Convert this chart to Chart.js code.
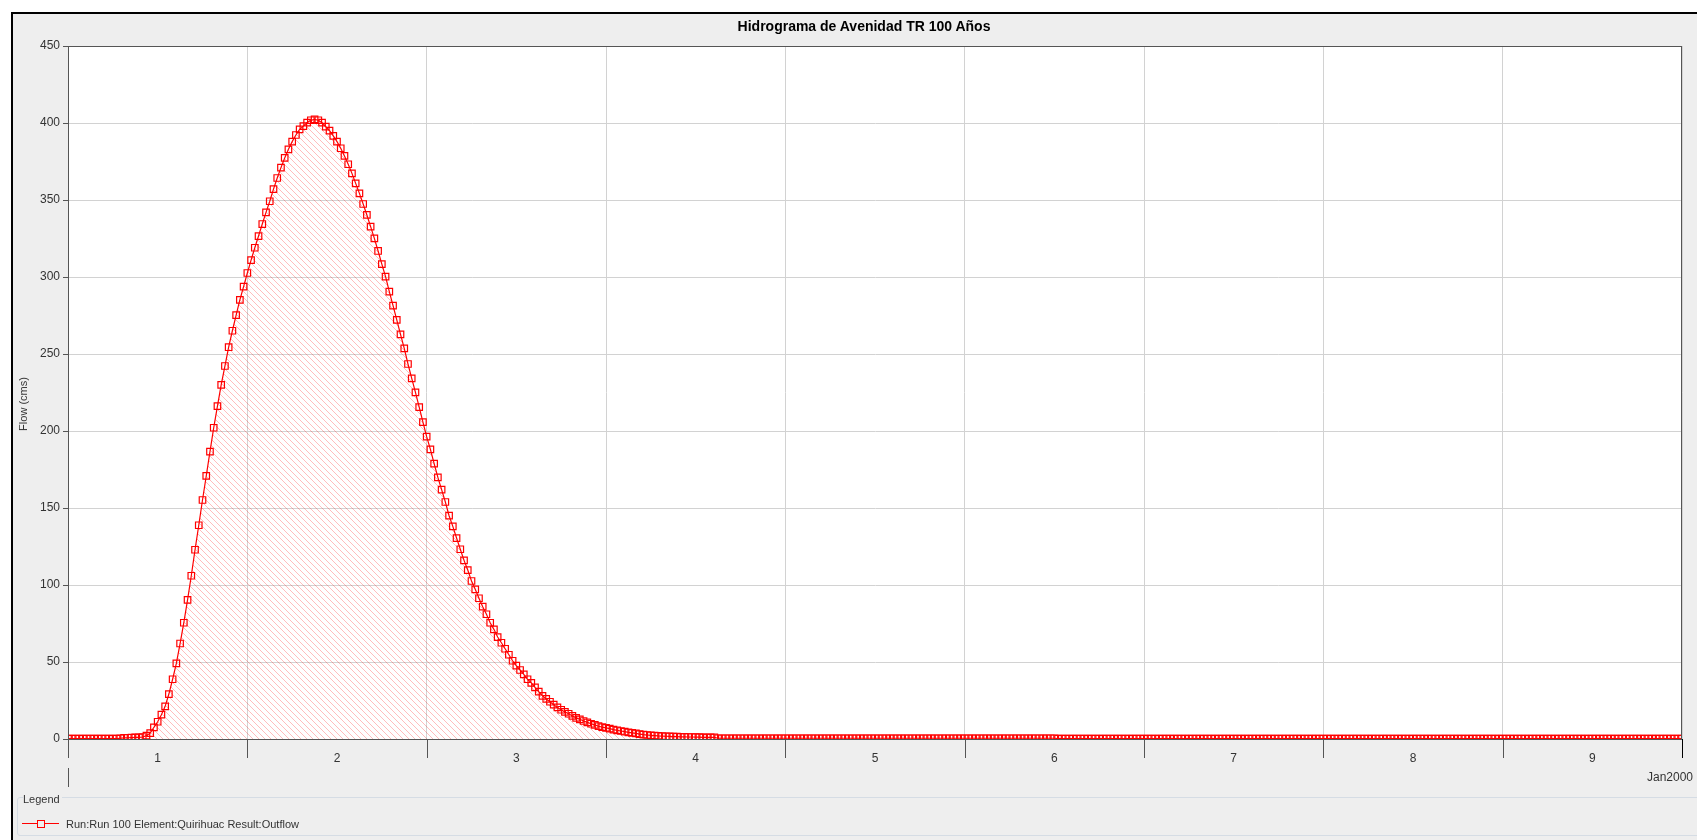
<!DOCTYPE html>
<html>
<head>
<meta charset="utf-8">
<title>Hidrograma de Avenidad TR 100 Años</title>
<script src="https://cdn.jsdelivr.net/npm/chart.js@4.4.1/dist/chart.umd.min.js"></script>
<style>
    html, body { margin: 0; padding: 0; background: #fff; }
    body { width: 1697px; height: 840px; position: relative; overflow: hidden; font-family: "Liberation Sans", Arial, sans-serif; }
    #frame { position: absolute; left: 11px; top: 12px; right: -5px; bottom: -5px; border-top: 2px solid #000; border-left: 2px solid #000; background: #eeeeee; }
    #chart { position: absolute; left: 0; top: 0; }
    #title { position: absolute; left: 664px; width: 400px; top: 18px; text-align: center; font-size: 14px; font-weight: bold; color: #000; white-space: nowrap; }
    #ytitle { position: absolute; left: -27px; width: 100px; top: 397px; height: 14px; line-height: 14px; text-align: center; font-size: 11px; color: #333; transform: rotate(-90deg); white-space: nowrap; }
    #year { position: absolute; right: 4px; top: 770px; font-size: 12px; color: #333; }
    #legend { position: absolute; left: 17px; top: 797px; width: 1690px; height: 37px; border: 1px solid #d5dce4; border-radius: 3px; }
    #legend-title { position: absolute; left: 23px; top: 793px; font-size: 11px; color: #333; background: #eeeeee; padding-right: 2px; }
    #legend-item { position: absolute; left: 22px; top: 817px; height: 14px; font-size: 11px; color: #333; }
    #legend-item .sample { position: absolute; left: 0; top: 6px; width: 37px; height: 1px; background: #ff0000; }
    #legend-item .box { position: absolute; left: 15px; top: 3px; width: 6px; height: 6px; border: 1px solid #ff0000; background: #eeeeee; }
    #legend-item .label { position: absolute; left: 44px; top: 0; white-space: nowrap; line-height: 14px; }
</style>
</head>
<body>
<div id="frame"></div>
<canvas id="chart" width="1697" height="840"></canvas>
<div id="title">Hidrograma de Avenidad TR 100 Años</div>
<div id="ytitle">Flow (cms)</div>
<div id="year">Jan2000</div>
<div id="legend"></div>
<div id="legend-title">Legend</div>
<div id="legend-item"><span class="sample"></span><span class="box"></span><span class="label">Run:Run 100 Element:Quirihuac Result:Outflow</span></div>

<script>
// ============================================
// Hydrograph TR 100 - outflow, 30 min steps
// ============================================

const STEP_HOURS = 0.5;
const dayLabels = ['1', '2', '3', '4', '5', '6', '7', '8', '9'];
const yTicks = [0, 50, 100, 150, 200, 250, 300, 350, 400, 450];

// Outflow (cms), one row = 6 hours
const flowDay1 = [
    0.2, 0.2, 0.2, 0.2, 0.2, 0.2, 0.2, 0.2, 0.2, 0.2, 0.2, 0.2,
    0.2, 0.2, 0.5, 0.7, 0.8, 0.9, 1.0, 1.1, 1.3, 2.2, 3.8, 7.6,
    11.2, 15.8, 21.2, 29.2, 38.8, 49.1, 62.0, 75.5, 90.4, 106.0, 122.9, 138.8,
    155.2, 170.8, 186.6, 202.1, 216.2, 229.9, 242.2, 254.4, 265.1, 275.3, 285.1, 293.7
];
const flowDay2 = [
    302.6, 311.0, 319.0, 326.6, 334.4, 342.0, 349.2, 357.1, 364.3, 371.0, 377.3, 382.9,
    387.9, 392.2, 395.9, 398.0, 400.3, 401.8, 402.3, 401.8, 400.2, 397.6, 395.0, 391.6,
    387.9, 383.6, 378.6, 373.2, 367.3, 360.8, 354.3, 347.4, 340.3, 332.7, 325.1, 316.9,
    308.4, 300.2, 290.5, 281.4, 272.1, 262.8, 253.7, 243.5, 234.2, 225.1, 215.5, 205.8
];
const flowDay3 = [
    196.3, 188.1, 178.8, 169.9, 161.9, 153.9, 145.0, 138.1, 130.5, 123.2, 116.0, 109.7,
    102.6, 97.2, 91.4, 85.9, 81.0, 75.5, 71.2, 66.2, 62.5, 58.6, 54.7, 50.8,
    47.6, 44.8, 42.0, 38.8, 36.5, 33.5, 30.8, 28.0, 26.0, 24.2, 22.3, 20.5,
    19.0, 17.6, 16.4, 15.0, 13.7, 12.8, 11.7, 10.8, 9.9, 9.2, 8.3, 7.7
];
const flowDay4 = [
    7.2, 6.7, 6.1, 5.6, 5.2, 4.8, 4.3, 4.0, 3.6, 3.2, 2.8, 2.6,
    2.4, 2.2, 2.0, 1.9, 1.8, 1.7, 1.6, 1.5, 1.4, 1.4, 1.3, 1.3,
    1.2, 1.2, 1.1, 1.1, 1.0, 1.0, 0.5, 0.5, 0.5, 0.5, 0.5, 0.5,
    0.5, 0.5, 0.5, 0.5, 0.5, 0.5, 0.5, 0.5, 0.5, 0.5, 0.5, 0.5
];
const flowDay5 = [
    0.5, 0.5, 0.5, 0.5, 0.5, 0.5, 0.5, 0.5, 0.5, 0.5, 0.5, 0.5,
    0.5, 0.5, 0.5, 0.5, 0.5, 0.5, 0.5, 0.5, 0.5, 0.5, 0.5, 0.5,
    0.5, 0.5, 0.5, 0.5, 0.5, 0.5, 0.5, 0.5, 0.5, 0.5, 0.5, 0.5,
    0.5, 0.5, 0.5, 0.5, 0.5, 0.5, 0.5, 0.5, 0.5, 0.5, 0.5, 0.5
];
const flowDay6 = [
    0.5, 0.5, 0.5, 0.5, 0.5, 0.5, 0.5, 0.5, 0.5, 0.5, 0.5, 0.5,
    0.5, 0.5, 0.5, 0.5, 0.5, 0.5, 0.5, 0.5, 0.5, 0.5, 0.5, 0.5,
    0.5, 0.3, 0.3, 0.3, 0.3, 0.3, 0.3, 0.3, 0.3, 0.3, 0.3, 0.3,
    0.3, 0.3, 0.3, 0.3, 0.3, 0.3, 0.3, 0.3, 0.3, 0.3, 0.3, 0.3
];
const flowDay7 = [
    0.3, 0.3, 0.3, 0.3, 0.3, 0.3, 0.3, 0.3, 0.3, 0.3, 0.3, 0.3,
    0.3, 0.3, 0.3, 0.3, 0.3, 0.3, 0.3, 0.3, 0.3, 0.3, 0.3, 0.3,
    0.3, 0.3, 0.3, 0.3, 0.3, 0.3, 0.3, 0.3, 0.3, 0.3, 0.3, 0.3,
    0.3, 0.3, 0.3, 0.3, 0.3, 0.3, 0.3, 0.3, 0.3, 0.3, 0.3, 0.3
];
const flowDay8 = [
    0.3, 0.3, 0.3, 0.3, 0.3, 0.3, 0.3, 0.3, 0.3, 0.3, 0.3, 0.3,
    0.3, 0.3, 0.3, 0.3, 0.3, 0.3, 0.3, 0.3, 0.3, 0.3, 0.3, 0.3,
    0.3, 0.3, 0.3, 0.3, 0.3, 0.3, 0.3, 0.3, 0.3, 0.3, 0.3, 0.3,
    0.3, 0.3, 0.3, 0.3, 0.3, 0.3, 0.3, 0.3, 0.3, 0.3, 0.3, 0.3
];
const flowDay9 = [
    0.3, 0.3, 0.3, 0.3, 0.3, 0.3, 0.3, 0.3, 0.3, 0.3, 0.3, 0.3,
    0.3, 0.3, 0.3, 0.3, 0.3, 0.3, 0.3, 0.3, 0.3, 0.3, 0.3, 0.3,
    0.3, 0.3, 0.3, 0.3, 0.3, 0.3, 0.3, 0.3, 0.3, 0.3, 0.3, 0.3,
    0.3, 0.3, 0.3, 0.3, 0.3, 0.3, 0.3, 0.3, 0.3, 0.3, 0.3, 0.3
];
const flowEnd = [0.3];

const flowCms = [].concat(flowDay1, flowDay2, flowDay3, flowDay4, flowDay5,
    flowDay6, flowDay7, flowDay8, flowDay9, flowEnd);

const RED = '#ff0000';
const GRID = '#d2d2d2';
const AXIS = '#555555';
const TEXT = '#333333';
const HOURS_PER_DAY = 24;
const MAX_HOURS = dayLabels.length * HOURS_PER_DAY;

const canvas = document.getElementById('chart');
const ctx = canvas.getContext('2d');

// diagonal hatch used under the curve
function makeHatch() {
    const tile = document.createElement('canvas');
    tile.width = 6;
    tile.height = 6;
    const g = tile.getContext('2d');
    g.strokeStyle = 'rgba(255,0,0,0.26)';
    g.lineWidth = 1;
    g.beginPath();
    g.moveTo(-1, -1); g.lineTo(7, 7);
    g.moveTo(-1, 5); g.lineTo(1, 7);
    g.moveTo(5, -1); g.lineTo(7, 1);
    g.stroke();
    return ctx.createPattern(tile, 'repeat');
}

// white plot background, outline, and the date ticks under the x axis
const plotFrame = {
    id: 'plotFrame',
    beforeDraw(chart) {
        const a = chart.chartArea;
        const c = chart.ctx;
        c.save();
        c.fillStyle = '#ffffff';
        c.fillRect(a.left, a.top, a.right - a.left, a.bottom - a.top);
        c.restore();
    },
    afterDraw(chart) {
        const a = chart.chartArea;
        const c = chart.ctx;
        const xs = chart.scales.x;
        c.save();
        c.strokeStyle = AXIS;
        c.lineWidth = 1;
        c.strokeRect(a.left + 0.5, a.top + 0.5, a.right - a.left - 1, a.bottom - a.top);
        for (let d = 0; d <= dayLabels.length; d++) {
            const px = Math.round(xs.getPixelForValue(d * HOURS_PER_DAY)) + 0.5;
            c.strokeStyle = d === dayLabels.length ? '#000' : AXIS;
            c.beginPath();
            c.moveTo(px, a.bottom);
            c.lineTo(px, a.bottom + 19);
            c.stroke();
        }
        const x0 = Math.round(xs.getPixelForValue(0)) + 0.5;
        c.strokeStyle = AXIS;
        c.beginPath();
        c.moveTo(x0, a.bottom + 29);
        c.lineTo(x0, a.bottom + 48);
        c.stroke();
        c.restore();
    }
};

const points = flowCms.map((v, i) => ({ x: i * STEP_HOURS, y: v }));

new Chart(canvas, {
    type: 'line',
    data: {
        datasets: [{
            label: 'Run:Run 100 Element:Quirihuac Result:Outflow',
            data: points,
            borderColor: RED,
            borderWidth: 1.2,
            backgroundColor: makeHatch(),
            fill: 'origin',
            tension: 0,
            pointStyle: 'rect',
            pointRadius: 4.6,
            pointBorderWidth: 1.2,
            pointBorderColor: RED,
            pointBackgroundColor: 'rgba(255,255,255,0)'
        }]
    },
    options: {
        responsive: false,
        animation: false,
        layout: { padding: { left: 14, top: 46, right: 15, bottom: 60 } },
        plugins: {
            legend: { display: false },
            tooltip: { enabled: false },
            title: { display: false }
        },
        scales: {
            x: {
                type: 'linear',
                min: 0,
                max: MAX_HOURS,
                grid: {
                    color: c => (c.tick && c.tick.value % HOURS_PER_DAY === 0) ? GRID : 'rgba(0,0,0,0)',
                    drawTicks: false
                },
                border: { color: AXIS, width: 1 },
                ticks: {
                    stepSize: HOURS_PER_DAY / 2,
                    autoSkip: false,
                    maxRotation: 0,
                    padding: 12,
                    color: TEXT,
                    font: { family: '"Liberation Sans", Arial, sans-serif', size: 12 },
                    callback: v => (v % HOURS_PER_DAY === HOURS_PER_DAY / 2) ? dayLabels[(v - HOURS_PER_DAY / 2) / HOURS_PER_DAY] : ''
                },
                afterFit: s => { s.height = 41; }
            },
            y: {
                min: yTicks[0],
                max: yTicks[yTicks.length - 1],
                afterBuildTicks: s => { s.ticks = yTicks.map(v => ({ value: v })); },
                grid: { color: GRID, tickLength: 5, tickColor: AXIS },
                border: { color: AXIS, width: 1 },
                ticks: {
                    padding: 3,
                    color: TEXT,
                    font: { family: '"Liberation Sans", Arial, sans-serif', size: 12 }
                },
                afterFit: s => { s.width = 54; }
            }
        }
    },
    plugins: [plotFrame]
});
</script>
</body>
</html>
